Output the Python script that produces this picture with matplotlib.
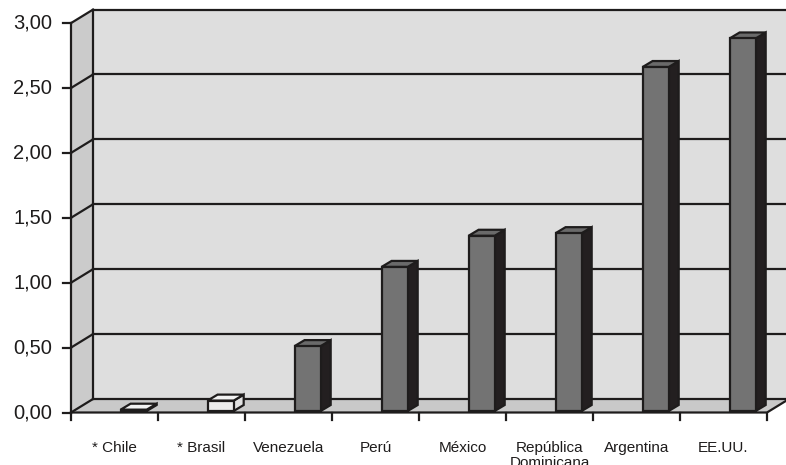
import matplotlib
matplotlib.use('Agg')
import matplotlib.pyplot as plt
from matplotlib.patches import Polygon

plt.rcParams['font.family'] = ['Liberation Sans', 'DejaVu Sans']

# data
countries = ['* Chile', '* Brasil', 'Venezuela', 'Perú', 'México',
             'República\nDominicana', 'Argentina', 'EE.UU.']
values = [0.01, 0.08, 0.50, 1.11, 1.35, 1.37, 2.65, 2.87]
highlight = [True, True, False, False, False, False, False, False]  # light bars
y_ticks = [0.0, 0.5, 1.0, 1.5, 2.0, 2.5, 3.0]
y_labels = ['0,00', '0,50', '1,00', '1,50', '2,00', '2,50', '3,00']

# pixel layout of the pseudo-3D frame
PX_X0, PX_CAT = 71, 87.0        # front axis x, pixels per category
PX_Y0, PX_UNIT = 412.5, 129.8   # baseline y, pixels per unit
W, H = 786, 465
DX, DY = 22 / PX_CAT, 13.5 / PX_UNIT      # wall depth
BDX, BDY = 10 / PX_CAT, 6 / PX_UNIT       # bar depth
BAR_OFF, BAR_W, BAR_LIFT = 0.57, 0.30, 1.5 / PX_UNIT
n = len(countries)
ymax = y_ticks[-1]

fig = plt.figure(figsize=(W / 100, H / 100), dpi=100)
ax = fig.add_axes([0, 0, 1, 1])
ax.set_xlim(-PX_X0 / PX_CAT, (W - PX_X0) / PX_CAT)
ax.set_ylim((PX_Y0 - H) / PX_UNIT, PX_Y0 / PX_UNIT)
ax.axis('off')

lw = 1.6
k = dict(edgecolor='#1e1c1c', linewidth=lw, joinstyle='miter')

# walls and floor
ax.add_patch(Polygon([(DX, DY), (n + DX + 1, DY), (n + DX + 1, ymax + DY), (DX, ymax + DY)],
                     facecolor='#dedede', edgecolor='none', zorder=0))
ax.add_patch(Polygon([(0, 0), (DX, DY), (DX, ymax + DY), (0, ymax)],
                     facecolor='#cbcbcb', edgecolor='none', zorder=0))
ax.add_patch(Polygon([(0, 0), (n, 0), (n + DX, DY), (DX, DY)],
                     facecolor='#c9c9c9', edgecolor='none', zorder=0))

for v in y_ticks:
    ax.plot([DX, n + DX + 1], [v + DY, v + DY], color='#1e1c1c', lw=lw, zorder=1)
    ax.plot([0, DX], [v, v + DY], color='#1e1c1c', lw=lw, zorder=1)
    ax.plot([-8 / PX_CAT, 0], [v, v], color='#1e1c1c', lw=lw, zorder=1)
ax.plot([DX, DX], [DY, ymax + DY], color='#1e1c1c', lw=lw, zorder=1)
ax.plot([0, 0], [0, ymax], color='#1e1c1c', lw=lw, zorder=1)
ax.plot([0, n, n + DX], [0, 0, DY], color='#1e1c1c', lw=lw, zorder=1)
for i in range(n + 1):
    ax.plot([i, i], [0, -7 / PX_UNIT], color='#1e1c1c', lw=lw, zorder=1)

# bars
for i, (v, hl) in enumerate(zip(values, highlight)):
    x0 = i + BAR_OFF
    x1 = x0 + BAR_W
    b = BAR_LIFT
    t = b + v
    if hl:
        front, side, top = '#ededed', '#e2e2e2', '#f2f2f2'
    else:
        front, side, top = '#737373', '#231f20', '#6a6a6a'
    ax.add_patch(Polygon([(x1, b), (x1 + BDX, b + BDY), (x1 + BDX, t + BDY), (x1, t)],
                         facecolor=side, zorder=2, **k))
    ax.add_patch(Polygon([(x0, t), (x1, t), (x1 + BDX, t + BDY), (x0 + BDX, t + BDY)],
                         facecolor=top, zorder=2, **k))
    ax.add_patch(Polygon([(x0, b), (x1, b), (x1, t), (x0, t)],
                         facecolor=front, zorder=3, **k))

# labels
for v, lab in zip(y_ticks, y_labels):
    ax.text(-19 / PX_CAT, v, lab, ha='right', va='center', fontsize=14.5, color='#1e1c1c')
for i, lab in enumerate(countries):
    # first line sits on the common baseline, further lines go below it
    for j, line in enumerate(lab.split('\n')):
        ax.text(i + 0.5, (-39.2 - 15.5 * j) / PX_UNIT, line, ha='center', va='baseline',
                fontsize=11, color='#1e1c1c')

fig.savefig('out.png', dpi=100, facecolor='white')
